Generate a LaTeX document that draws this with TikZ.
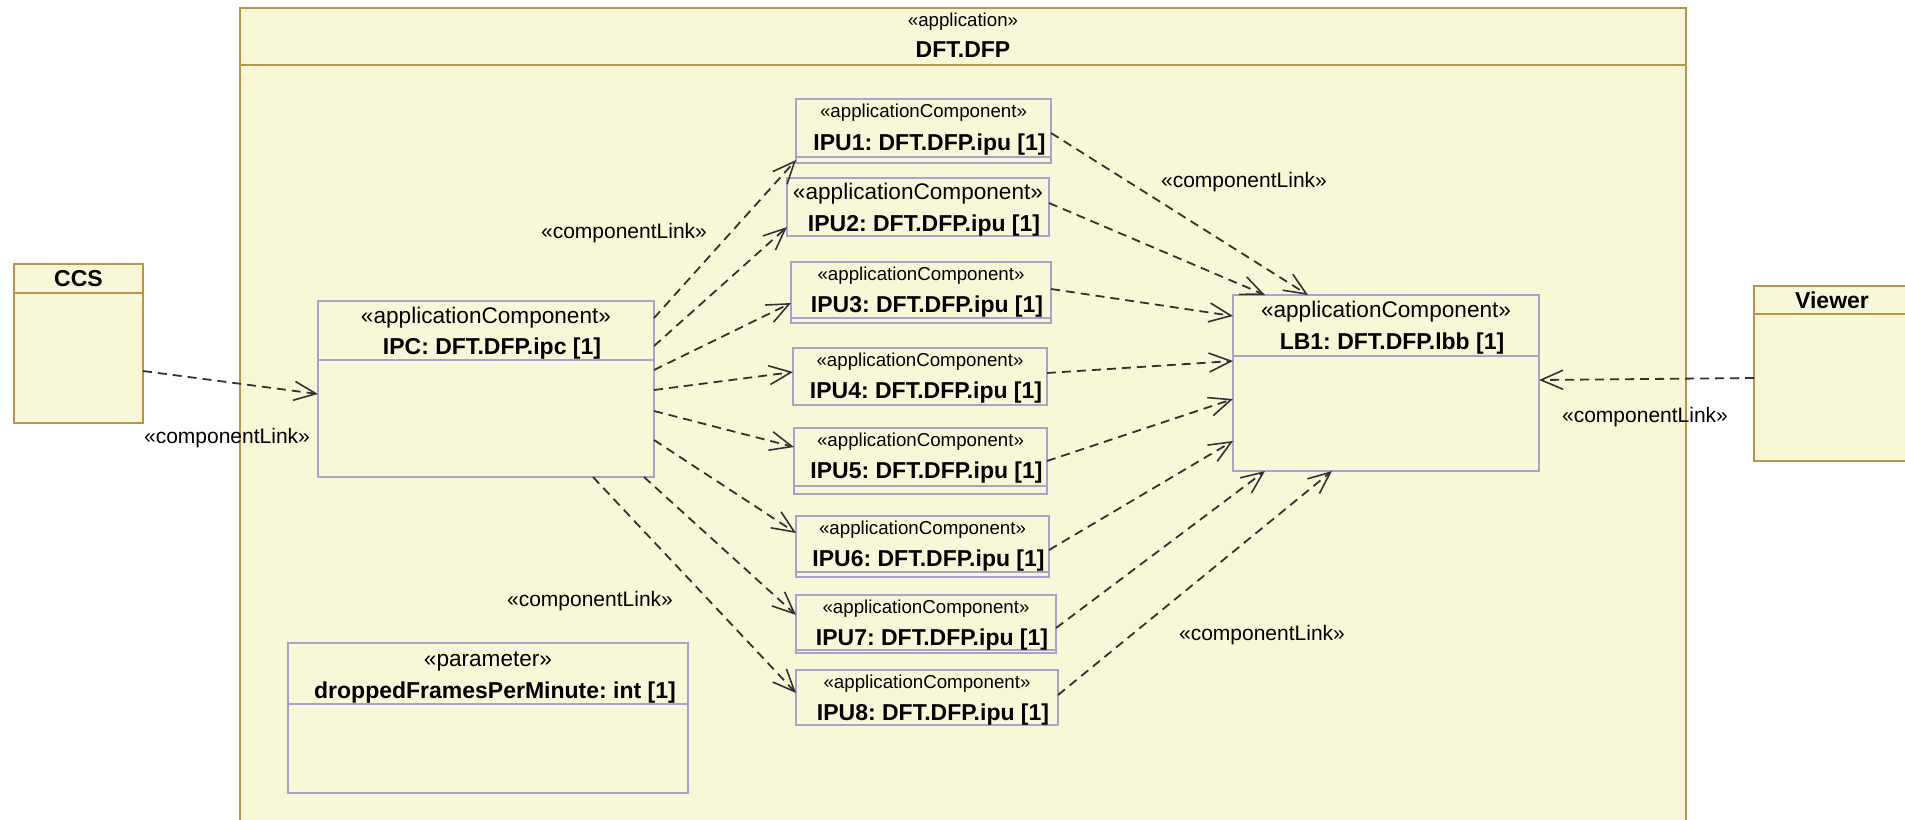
\documentclass[tikz,border=0pt]{standalone}
\usepackage{fontspec}
\setmainfont{Liberation Sans}
\usetikzlibrary{arrows.meta}
\frenchspacing

\definecolor{umlfill}{RGB}{248,248,216}
\definecolor{umlgold}{RGB}{184,148,76}
\definecolor{umlframe}{RGB}{170,162,204}
\definecolor{linkgray}{RGB}{50,50,50}

\begin{document}
\begin{tikzpicture}[x=1pt,y=-1pt,
    part/.style={draw=umlframe, line width=1.6pt, fill=umlfill, anchor=north west,
        inner sep=0pt, outer sep=0pt},
    actor/.style={part, draw=umlgold},
    link/.style={draw=linkgray, line width=1.8pt, dash pattern=on 9pt off 6pt,
        -{Straight Barb[length=22pt,width=19pt,line width=1.6pt]}},
    stereo/.style={font=\fontsize{18.7}{20}\selectfont, anchor=base, inner sep=0pt},
    bigstereo/.style={font=\fontsize{22.6}{24}\selectfont, anchor=base, inner sep=0pt},
    title/.style={font=\fontsize{23}{25}\selectfont\bfseries, anchor=base, inner sep=0pt},
    linklabel/.style={font=\fontsize{21}{23}\selectfont, inner sep=0pt}]

    \fill[white] (0,0) rectangle (1905,819);
    \useasboundingbox (0,0) rectangle (1905,819);

    % application frame
    \draw[umlgold, line width=2pt, fill=umlfill] (240,8) rectangle (1686,830);
    \draw[umlgold, line width=2pt] (240,65) -- (1686,65);
    \node[stereo] (appst) at (963,27) {«application»};
    \node[title] (appname) at (963,57) {DFT.DFP};

    % outside parts
    \node[actor, minimum width=129pt, minimum height=159pt] (ccs) at (14,264) {};
    \draw[umlgold, line width=1.6pt] ([yshift=-29pt]ccs.north west) -- ([yshift=-29pt]ccs.north east);
    \node[title] (ccsname) at ([yshift=-22pt]ccs.north) {CCS};

    \node[actor, minimum width=156pt, minimum height=175pt] (viewer) at (1754,286) {};
    \draw[umlgold, line width=1.6pt] ([yshift=-28pt]viewer.north west) -- ([yshift=-28pt]viewer.north east);
    \node[title] (viewername) at ([yshift=-22pt]viewer.north) {Viewer};

    % inner components
    \node[part, minimum width=336pt, minimum height=176pt] (ipc) at (318,301) {};
    \draw[umlframe, line width=1.6pt] ([yshift=-59pt]ipc.north west) -- ([yshift=-59pt]ipc.north east);
    \node[bigstereo] (ipcst) at ([yshift=-22pt]ipc.north) {«applicationComponent»};
    \node[title] (ipcname) at ([xshift=6pt,yshift=-53pt]ipc.north) {IPC: DFT.DFP.ipc [1]};

    \node[part, minimum width=306pt, minimum height=176pt] (lb1) at (1233,295) {};
    \draw[umlframe, line width=1.6pt] ([yshift=-61pt]lb1.north west) -- ([yshift=-61pt]lb1.north east);
    \node[bigstereo] (lb1st) at ([yshift=-22pt]lb1.north) {«applicationComponent»};
    \node[title] (lb1name) at ([xshift=6pt,yshift=-54pt]lb1.north) {LB1: DFT.DFP.lbb [1]};

    \node[part, minimum width=400pt, minimum height=150pt] (param) at (288,643) {};
    \draw[umlframe, line width=1.6pt] ([yshift=-61pt]param.north west) -- ([yshift=-61pt]param.north east);
    \node[bigstereo] (paramst) at ([yshift=-23pt]param.north) {«parameter»};
    \node[title] (paramname) at ([xshift=7pt,yshift=-55pt]param.north) {droppedFramesPerMinute: int [1]};

    % ipu boxes
    \foreach \i/\x/\y/\w/\h in {1/796/99/255/64, 2/787/178/262/58, 3/791/262/260/61,
        4/793/348/254/57, 5/794/428/253/66, 6/796/516/253/61, 7/796/595/260/58, 8/796/670/262/55}
        \node[part, minimum width=\w pt, minimum height=\h pt] (ipu\i) at (\x,\y) {};
    \foreach \i/\d in {1/58, 3/56, 5/58, 6/56, 7/55}
        \draw[umlframe, line width=1.6pt] ([yshift=-\d pt]ipu\i.north west) -- ([yshift=-\d pt]ipu\i.north east);
    \foreach \i in {1,3,4,5,6,7,8}
        \node[stereo] (ipu\i st) at ([yshift=-18pt]ipu\i.north) {«applicationComponent»};
    \node[bigstereo] (ipu2st) at ([yshift=-21pt]ipu2.north) {«applicationComponent»};
    \foreach \i/\b in {1/51, 2/53, 3/50, 4/50, 5/50, 6/50, 7/50, 8/50}
        \node[title] (ipu\i name) at ([xshift=6pt,yshift=-\b pt]ipu\i.north) {IPU\i: DFT.DFP.ipu [1]};

    % links
    \draw[link] ([yshift=-107pt]ccs.north east) -- ([yshift=-93pt]ipc.north west);
    \draw[link] ([yshift=-92pt]viewer.north west) -- ([yshift=-85pt]lb1.north east);

    \foreach \i/\a/\b in {2/45/49, 3/69/41, 4/89/24, 5/110/19, 6/139/17}
        \draw[link] ([yshift=-\a pt]ipc.north east) -- ([yshift=-\b pt]ipu\i.north west);
    \draw[link] ([yshift=-17pt]ipc.north east) -- ([yshift=3pt]ipu1.south west);
    \draw[link] ([xshift=-10pt]ipc.south east) -- ([yshift=-20pt]ipu7.north west);
    \draw[link] ([xshift=-61pt]ipc.south east) -- ([yshift=-23pt]ipu8.north west);

    \foreach \i/\a/\b in {3/27/21, 4/25/66, 5/33/104, 6/34/146}
        \draw[link] ([yshift=-\a pt]ipu\i.north east) -- ([yshift=-\b pt]lb1.north west);
    \draw[link] ([yshift=-34pt]ipu1.north east) -- ([xshift=75pt]lb1.north west);
    \draw[link] ([yshift=-25pt]ipu2.north east) -- ([xshift=32pt]lb1.north west);
    \draw[link] ([yshift=-33pt]ipu7.north east) -- ([xshift=32pt]lb1.south west);
    \draw[link] ([yshift=-25pt]ipu8.north east) -- ([xshift=99pt]lb1.south west);

    % labels
    \node[linklabel] (lab1) at (227,438) {«componentLink»};
    \node[linklabel] (lab2) at (624,233) {«componentLink»};
    \node[linklabel] (lab3) at (1244,182) {«componentLink»};
    \node[linklabel] (lab4) at (1645,417) {«componentLink»};
    \node[linklabel] (lab5) at (590,601) {«componentLink»};
    \node[linklabel] (lab6) at (1262,635) {«componentLink»};

\end{tikzpicture}
\end{document}
